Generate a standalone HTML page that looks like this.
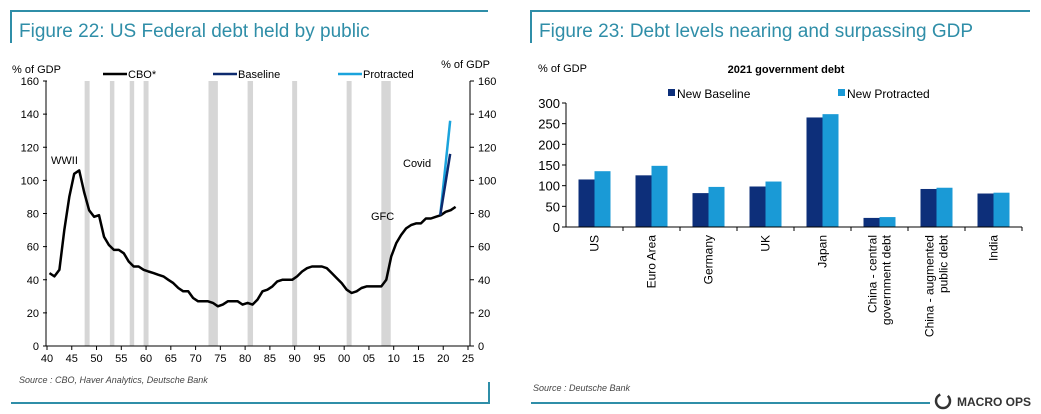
<!DOCTYPE html>
<html><head><meta charset="utf-8"><style>
body{margin:0;background:#fff;}
svg{display:block;font-family:"Liberation Sans",sans-serif;}
</style></head><body>
<svg id="s" width="1041" height="414" viewBox="0 0 1041 414">
<g stroke="#2f8ea8" stroke-width="2" fill="none">
<path d="M11,43 V11 H488"/><path d="M11,403 H489 V382"/>
</g>
<text x="19" y="37" font-size="19" fill="#2f8ea8">Figure 22: US Federal debt held by public</text>
<text x="19" y="383" font-size="9" font-style="italic" fill="#444">Source : CBO, Haver Analytics, Deutsche Bank</text>
<g stroke="#2f8ea8" stroke-width="2" fill="none">
<path d="M531,43 V11 H1030"/><path d="M531,403 H930"/>
</g>
<text x="539" y="37" font-size="19" fill="#2f8ea8">Figure 23: Debt levels nearing and surpassing GDP</text>
<text x="533" y="391" font-size="9" font-style="italic" fill="#444">Source : Deutsche Bank</text>
<g>
<circle cx="943" cy="401" r="7" fill="none" stroke="#333" stroke-width="2.5" stroke-dasharray="30 8"/>
<text x="957" y="406" font-size="12" font-weight="bold" fill="#333">MACRO OPS</text>
</g>
<g id="left"></g>
<g id="right"></g>
</svg>
<script>
const years=[];for(let y=1940;y<=2022;y++)years.push(y);
const cboDebt=[44,42,46,70,90,104,106,93,82,78,79,66,61,58,58,56,51,48,48,46,45,44,43,42,40,38,35,33,33,29,27,27,27,26,24,25,27,27,27,25,26,25,28,33,34,36,39,40,40,40,42,45,47,48,48,48,47,44,41,38,34,32,33,35,36,36,36,36,40,54,62,67,71,73,74,74,77,77,78,79,81,82,84];
const baselineYears=[2019.4,2021.4];
const baselineVals=[79,116];
const protractedYears=[2019.4,2021.4];
const protractedVals=[79,136];
const recessions=[[1947.6,1948.6],[1952.7,1953.6],[1956.7,1957.6],[1959.5,1960.5],[1972.6,1974.5],[1980.5,1981.6],[1989.5,1990.5],[2000.5,2001.5],[2007.5,2009.4]];
const leftTicks=[0,20,40,60,80,100,120,140,160];
const xTickLabels=['40','45','50','55','60','65','70','75','80','85','90','95','00','05','10','15','20','25'];

const categories=['US','Euro Area','Germany','UK','Japan','China - central|government debt','China - augmented|public debt','India'];
const newBaseline=[115,125,82,98,265,22,92,81];
const newProtracted=[135,148,97,110,273,24,95,83];
const barTicks=[0,50,100,150,200,250,300];

const NS='http://www.w3.org/2000/svg';
function mk(p,t,a,txt){const e=document.createElementNS(NS,t);for(const k in a)e.setAttribute(k,a[k]);if(txt!==undefined)e.textContent=txt;p.appendChild(e);return e;}

// left chart
const L=document.getElementById('left');
const X0=47,X1=468,Y0=346,Y1=81;
const xs=y=>X0+(y-1940)*(X1-X0)/85;
const ys=v=>Y0-v*(Y0-Y1)/160;
recessions.forEach(r=>{const e=mk(L,'rect',{x:xs(r[0]),y:Y1,width:xs(r[1])-xs(r[0]),height:Y0-Y1,fill:'#d6d6d6'});

});
mk(L,'path',{d:`M${X0-1},${Y1} V${Y0} H${X1+2} M${X1+2},${Y1} V${Y0}`,stroke:'#000','stroke-width':1,fill:'none'});
leftTicks.forEach(v=>{
 mk(L,'line',{x1:X0-4,x2:X0,y1:ys(v),y2:ys(v),stroke:'#000'});
 mk(L,'line',{x1:X1+2,x2:X1+6,y1:ys(v),y2:ys(v),stroke:'#000'});
 const a=mk(L,'text',{x:X0-8,y:ys(v)+4,'font-size':11,'text-anchor':'end'},v);
 
 
 const b=mk(L,'text',{x:X1+10,y:ys(v)+4,'font-size':11},v);
 
 
});
xTickLabels.forEach((t,i)=>{const x=xs(1940+i*5);
 mk(L,'line',{x1:x,x2:x,y1:Y0,y2:Y0+4,stroke:'#000'});
 const e=mk(L,'text',{x:x,y:Y0+16,'font-size':11,'text-anchor':'middle'},t);
 
 });
let d='';years.forEach((y,i)=>{d+=(i?'L':'M')+xs(y+0.5).toFixed(1)+','+ys(cboDebt[i]).toFixed(1);});
const cl=mk(L,'path',{d:d,stroke:'#000','stroke-width':2.5,fill:'none','stroke-linejoin':'round'});


let dp='';protractedYears.forEach((y,i)=>{dp+=(i?'L':'M')+xs(y)+','+ys(protractedVals[i]);});
const pl=mk(L,'path',{d:dp,stroke:'#1aa3dc','stroke-width':2.5,fill:'none'});


let db='';baselineYears.forEach((y,i)=>{db+=(i?'L':'M')+xs(y)+','+ys(baselineVals[i]);});
const bl=mk(L,'path',{d:db,stroke:'#0d2a6e','stroke-width':2.5,fill:'none'});


[['% of GDP',12,73,'start'],['% of GDP',490,68,'end'],['WWII',51,164,'start'],['Covid',403,167,'start'],['GFC',371,220,'start']].forEach(a=>{
 const e=mk(L,'text',{x:a[1],y:a[2],'font-size':11,'text-anchor':a[3]},a[0]);
 
 });
[['CBO*',103,'#000'],['Baseline',213,'#0d2a6e'],['Protracted',338,'#1aa3dc']].forEach(a=>{
 const g=mk(L,'g',{});
 
 
 mk(g,'line',{x1:a[1],x2:a[1]+24,y1:74,y2:74,stroke:a[2],'stroke-width':2.5});
 mk(g,'text',{x:a[1]+25,y:78,'font-size':11},a[0]);});

// right chart
const R=document.getElementById('right');
const BX0=566,BX1=1022,BY0=227,BY1=103;
const yb=v=>BY0-v*(BY0-BY1)/300;
const cw=(BX1-BX0)/categories.length;
mk(R,'text',{x:538,y:72,'font-size':11},'% of GDP');
mk(R,'text',{x:786,y:73,'font-size':11,'font-weight':'bold','text-anchor':'middle'},'2021 government debt');
[['New Baseline',668,'#0d2f7a'],['New Protracted',838,'#1a9ad6']].forEach(a=>{
 const g=mk(R,'g',{});
 
 
 mk(g,'rect',{x:a[1],y:89,width:7,height:7,fill:a[2]});
 mk(g,'text',{x:a[1]+9,y:98,'font-size':12},a[0]);});
barTicks.forEach(v=>{
 mk(R,'line',{x1:BX0-4,x2:BX0,y1:yb(v),y2:yb(v),stroke:'#000'});
 const e=mk(R,'text',{x:BX0-6,y:yb(v)+5,'font-size':13,'text-anchor':'end'},v);
 
 });
categories.forEach((c,i)=>{
 const cx=BX0+cw*(i+0.5);
 const b1=mk(R,'rect',{x:cx-16,y:yb(newBaseline[i]),width:16,height:BY0-yb(newBaseline[i]),fill:'#0d2f7a'});
 
 
 const b2=mk(R,'rect',{x:cx,y:yb(newProtracted[i]),width:16,height:BY0-yb(newProtracted[i]),fill:'#1a9ad6'});
 
 
 mk(R,'line',{x1:BX0+cw*(i+1),x2:BX0+cw*(i+1),y1:BY0,y2:BY0+4,stroke:'#000'});
 const parts=c.split('|');
 parts.forEach((p,j)=>{
  const tx=cx+4+(j-(parts.length-1)/2)*14;
  const t=mk(R,'text',{x:tx,y:BY0+8,'font-size':12,'text-anchor':'end',transform:`rotate(-90 ${tx} ${BY0+8})`},p);
  
  
 });
});
mk(R,'path',{d:`M${BX0},${BY1} V${BY0} H${BX1}`,stroke:'#000',fill:'none'});
</script>
</body></html>
